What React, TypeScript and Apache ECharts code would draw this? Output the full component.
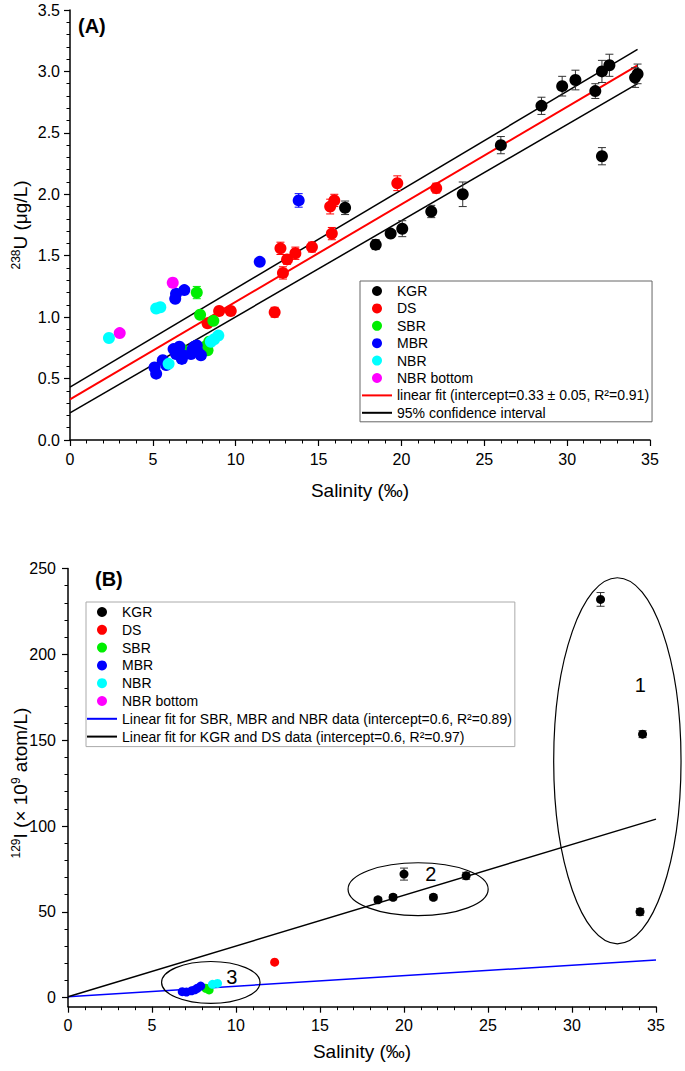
import React, { useEffect, useRef } from "react";
import * as echarts from "echarts";

// ---------- Panel A data: [salinity, 238U, error] ----------
const kgrA = [[16.6,1.89,0.055],[18.45,1.59,0.04],[19.35,1.68,0.025],[20.05,1.72,0.065],[21.8,1.86,0.05],[23.7,2.0,0.1],[26.0,2.4,0.07],[28.45,2.72,0.07],[29.7,2.88,0.08],[30.5,2.93,0.08],[31.7,2.84,0.06],[32.1,2.31,0.07],[32.1,3.0,0.09],[32.55,3.05,0.09],[34.1,2.95,0.08],[34.25,2.98,0.08]];
const dsA = [[8.3,0.95,0.03],[9.0,1.05,0.03],[9.7,1.05,0.03],[12.35,1.04,0.04],[12.7,1.56,0.05],[12.85,1.36,0.05],[13.1,1.47,0.04],[13.6,1.52,0.05],[14.6,1.57,0.04],[15.7,1.9,0.06],[15.8,1.68,0.05],[15.95,1.95,0.05],[19.75,2.09,0.06],[22.1,2.05,0.04]];
const sbrA = [[6.75,0.74,0.02],[7.65,1.2,0.05],[7.85,1.02,0.02],[8.15,0.76,0.02],[8.3,0.73,0.02],[8.4,0.8,0.02],[8.65,0.97,0.02]];
const mbrA = [[5.1,0.59,0.02],[5.2,0.54,0.02],[5.6,0.65,0.02],[5.8,0.61,0.02],[6.25,0.74,0.02],[6.4,0.7,0.02],[6.6,0.76,0.02],[6.75,0.66,0.02],[6.8,0.69,0.02],[7.3,0.7,0.02],[7.4,0.74,0.02],[7.5,0.76,0.02],[7.65,0.77,0.02],[7.7,0.72,0.02],[7.9,0.69,0.02],[6.35,1.15,0.02],[6.4,1.19,0.02],[6.9,1.22,0.02],[11.45,1.45,0.02],[13.8,1.95,0.055]];
const nbrA = [[2.35,0.83,0.02],[5.2,1.07,0.02],[5.45,1.08,0.02],[5.95,0.62,0.02],[8.5,0.8,0.02],[8.7,0.82,0.02],[8.95,0.85,0.02]];
const nbrBottomA = [[3.0,0.87,0.02],[6.2,1.28,0.035]];

const fitXA = [0, 34.25];
const fitYA = [0.33, 3.05];
const ciUpperA = [0.43, 3.18];
const ciLowerA = [0.22, 2.9];

// ---------- Panel B data: [salinity, 129I, error] ----------
const kgrB = [[18.45,57,1.5],[19.35,58.5,1.5],[20.0,72,3.5],[21.75,58.5,1.5],[23.7,71,2],[31.7,232,4],[34.2,153.5,2],[34.05,50,2]];
const dsB = [[12.3,20.7]];
const sbrB = [[8.2,5.5],[8.4,4.5]];
const mbrB = [[6.8,3.5],[7.05,3.3],[7.35,4.0],[7.55,4.6],[7.7,5.5],[7.9,6.8]];
const nbrB = [[8.6,7.8],[8.9,8.3]];

const fitXB = [0, 35];
const fitBlueB = [0.6, 22];
const fitBlackB = [0.6, 104];

// ellipses: [cx, cy, rx, ry]
const ellipsesB = [[32.7,138,3.79,106.6],[20.84,63.2,4.17,15.4],[8.5,8.9,2.93,12.2]];
const ellipseLabels = ["1", "2", "3"];
const ellipseLabelPos = [[34.07,182],[21.6,71.8],[9.75,11.9]];

const xTicks = [0, 5, 10, 15, 20, 25, 30, 35];

const NAMES = ["KGR", "DS", "SBR", "MBR", "NBR", "NBR bottom"];
const COLORS = ["#000000", "#ff0000", "#00ee00", "#0000ff", "#00ffff", "#ff00ff"];
const FIT_A = "linear fit (intercept=0.33 ± 0.05, R²=0.91)";
const CI_A = "95% confidence interval";
const FIT_B1 = "Linear fit for SBR, MBR and NBR data (intercept=0.6, R²=0.89)";
const FIT_B2 = "Linear fit for KGR and DS data (intercept=0.6, R²=0.97)";

const FONT = "Liberation Sans, Arial, Helvetica, sans-serif";

function errSeries(data: number[][], color: string, axis: number) {
  return {
    type: "custom",
    xAxisIndex: axis,
    yAxisIndex: axis,
    silent: true,
    z: 3,
    encode: { x: 0, y: 1 },
    data,
    renderItem: (params: any, api: any) => {
      const x = api.value(0), y = api.value(1), e = api.value(2);
      const t = api.coord([x, y + e]);
      const b = api.coord([x, y - e]);
      const hw = 4;
      const st = { stroke: color, lineWidth: 1 };
      return {
        type: "group",
        children: [
          { type: "line", shape: { x1: t[0], y1: t[1], x2: b[0], y2: b[1] }, style: st },
          { type: "line", shape: { x1: t[0] - hw, y1: t[1], x2: t[0] + hw, y2: t[1] }, style: st },
          { type: "line", shape: { x1: b[0] - hw, y1: b[1], x2: b[0] + hw, y2: b[1] }, style: st },
        ],
      };
    },
  };
}

function scatter(name: string, data: number[][], color: string, axis: number, size: number) {
  return {
    type: "scatter",
    name,
    xAxisIndex: axis,
    yAxisIndex: axis,
    symbol: "circle",
    symbolSize: size,
    z: 4,
    itemStyle: { color, opacity: 1 },
    data: data.map((d) => [d[0], d[1]]),
  };
}

function line(name: string, xs: number[], ys: number[], color: string, width: number, axis: number) {
  return {
    type: "line",
    name,
    xAxisIndex: axis,
    yAxisIndex: axis,
    symbol: "none",
    z: 2,
    lineStyle: { color, width },
    itemStyle: { color },
    data: xs.map((x, i) => [x, ys[i]]),
  };
}

const lineIcon = "path://M0,0H30V2H0Z";

function legendData(lineNames: string[], lineColors: string[]) {
  return [
    ...NAMES.map((n) => ({ name: n, icon: "circle" })),
    ...lineNames.map((n, i) => ({ name: n, icon: lineIcon, itemStyle: { color: lineColors[i] } })),
  ];
}

export default function App() {
  const ref = useRef<HTMLDivElement>(null);
  useEffect(() => {
    if (!ref.current) return;
    const chart = echarts.init(ref.current, undefined, { renderer: "svg" });

    const axisCommon = {
      axisLine: { show: true, onZero: false, lineStyle: { color: "#000", width: 1.5 } },
      axisTick: { show: true, length: 6, lineStyle: { color: "#000", width: 1.2 } },
      minorTick: { show: true, splitNumber: 5, length: 3.5, lineStyle: { color: "#000", width: 1 } },
      splitLine: { show: false },
      axisLabel: { color: "#000", fontSize: 16, fontFamily: FONT },
      nameMoveOverlap: false,
    };
    const nameStyle = {
      color: "#000",
      fontSize: 19,
      fontFamily: FONT,
      rich: {
        s: { fontSize: 12, fontFamily: FONT, color: "#000", verticalAlign: "top", lineHeight: 20 },
        n: { fontSize: 19, fontFamily: FONT, color: "#000", lineHeight: 20 },
      },
    };

    const ellipseSeries = {
      type: "custom",
      xAxisIndex: 1,
      yAxisIndex: 1,
      silent: true,
      clip: false,
      z: 5,
      encode: { x: 0, y: 1 },
      data: ellipsesB.map((e, i) => [e[0], e[1], e[2], e[3], ellipseLabelPos[i][0], ellipseLabelPos[i][1]]),
      renderItem: (params: any, api: any) => {
        const c = api.coord([api.value(0), api.value(1)]);
        const s = api.size([api.value(2), api.value(3)]);
        const lp = api.coord([api.value(4), api.value(5)]);
        return {
          type: "group",
          children: [
            { type: "ellipse", shape: { cx: c[0], cy: c[1], rx: s[0], ry: s[1] }, style: { fill: "none", stroke: "#000", lineWidth: 1.2 } },
            {
              type: "text",
              x: lp[0],
              y: lp[1],
              style: { text: ellipseLabels[params.dataIndex], fill: "#000", fontSize: 20, fontFamily: FONT, align: "center", verticalAlign: "middle" },
            },
          ],
        };
      },
    };

    const srcA = [kgrA, dsA, sbrA, mbrA, nbrA, nbrBottomA];
    const srcB = [kgrB, dsB, sbrB, mbrB, nbrB, [] as number[][]];

    const series: any[] = [];
    srcA.forEach((d, i) => series.push(errSeries(d, i === 0 ? "#333" : COLORS[i], 0)));
    srcA.forEach((d, i) => series.push(scatter(NAMES[i], d, COLORS[i], 0, 12)));
    series.push(line(FIT_A, fitXA, fitYA, "#ff0000", 2, 0));
    series.push(line(CI_A, fitXA, ciUpperA, "#000", 1.5, 0));
    series.push(line(CI_A, fitXA, ciLowerA, "#000", 1.5, 0));

    series.push(errSeries(kgrB, "#333", 1));
    srcB.forEach((d, i) => series.push(scatter(NAMES[i], d, COLORS[i], 1, 9)));
    series.push(line(FIT_B1, fitXB, fitBlueB, "#0000ff", 1.5, 1));
    series.push(line(FIT_B2, fitXB, fitBlackB, "#000", 1.5, 1));
    series.push(ellipseSeries);

    const legendCommon = {
      orient: "vertical",
      selectedMode: false,
      itemWidth: 30,
      itemHeight: 10,
      borderColor: "#888",
      borderWidth: 1,
      borderRadius: 0,
      textStyle: { color: "#000", fontSize: 14, fontFamily: FONT, lineHeight: 14 },
    };

    chart.setOption({
      animation: false,
      backgroundColor: "#fff",
      textStyle: { fontFamily: FONT },
      grid: [
        { left: 70, right: 35, top: 10, height: 430, containLabel: false, outerBoundsMode: "none" },
        { left: 68, right: 29, top: 568.5, height: 429.2, containLabel: false, outerBoundsMode: "none" },
      ],
      xAxis: [
        {
          ...axisCommon,
          gridIndex: 0,
          type: "value",
          min: xTicks[0],
          max: xTicks[xTicks.length - 1],
          interval: 5,
          axisLabel: { ...axisCommon.axisLabel, margin: 11 },
          name: "Salinity (‰)",
          nameLocation: "middle",
          nameGap: 41,
          nameTextStyle: nameStyle,
        },
        {
          ...axisCommon,
          gridIndex: 1,
          type: "value",
          min: xTicks[0],
          max: xTicks[xTicks.length - 1],
          interval: 5,
          offset: 9,
          axisLabel: { ...axisCommon.axisLabel, margin: 11 },
          name: "Salinity (‰)",
          nameLocation: "middle",
          nameGap: 35,
          nameTextStyle: nameStyle,
        },
      ],
      yAxis: [
        {
          ...axisCommon,
          gridIndex: 0,
          type: "value",
          min: 0,
          max: 3.5,
          interval: 0.5,
          axisLabel: { ...axisCommon.axisLabel, margin: 10, formatter: (v: number) => v.toFixed(1) },
          name: "{s|238}{n|U (μg/L)}",
          nameLocation: "middle",
          nameGap: 40,
          nameTextStyle: nameStyle,
        },
        {
          ...axisCommon,
          gridIndex: 1,
          type: "value",
          min: 0,
          max: 250,
          interval: 50,
          axisLabel: { ...axisCommon.axisLabel, margin: 12 },
          name: "{s|129}{n|I (× 10}{s|9}{n| atom/L)}",
          nameLocation: "middle",
          nameGap: 38,
          nameTextStyle: nameStyle,
        },
      ],
      legend: [
        {
          ...legendCommon,
          left: 360,
          top: 281,
          padding: [3, 3, 2, 2],
          itemGap: 3.4,
          borderColor: "#666",
          data: legendData([FIT_A, CI_A], ["#ff0000", "#000"]),
        },
        {
          ...legendCommon,
          left: 86,
          top: 602,
          padding: [3, 3, 3, 1],
          itemGap: 3.8,
          borderColor: "#aaa",
          data: legendData([FIT_B1, FIT_B2], ["#0000ff", "#000"]),
        },
      ],
      graphic: [
        { type: "text", left: 78, top: 16, style: { text: "(A)", fontSize: 20, fontWeight: "bold", fontFamily: FONT, fill: "#000" } },
        { type: "text", left: 95, top: 569, style: { text: "(B)", fontSize: 20, fontWeight: "bold", fontFamily: FONT, fill: "#000" } },
        { type: "line", shape: { x1: 68, y1: 997, x2: 68, y2: 1007 }, style: { stroke: "#000", lineWidth: 1.5 } },
      ],
      series,
    });
    return () => chart.dispose();
  }, []);
  return <div ref={ref} style={{ position: "absolute", left: 0, top: 0, width: 685, height: 1071 }} />;
}
